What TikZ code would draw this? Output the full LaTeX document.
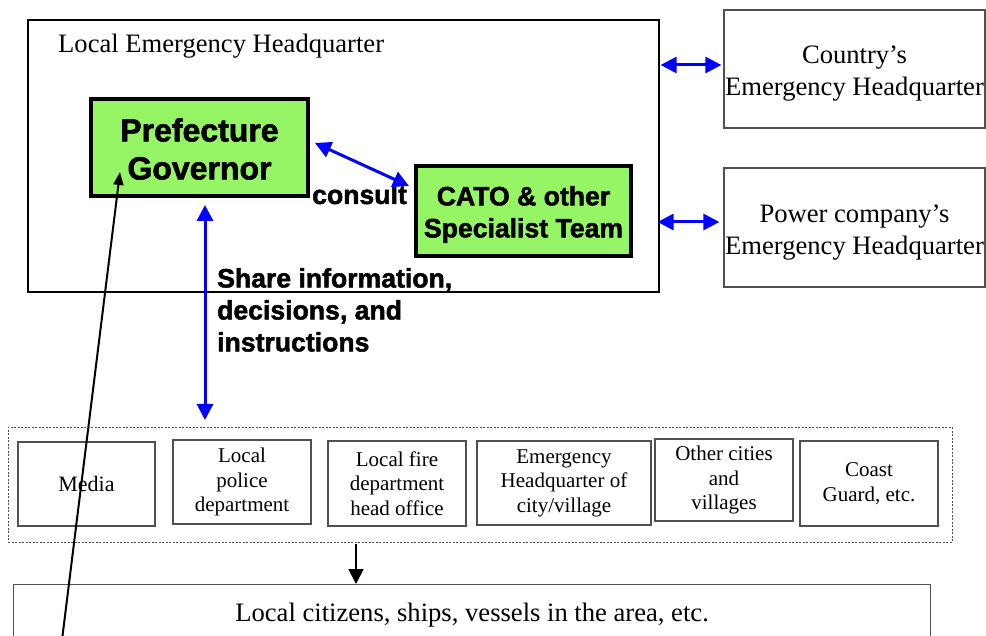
\documentclass[tikz,border=0pt]{standalone}
\usepackage{fontspec}
\setmainfont{Liberation Serif}
\newfontfamily\heavy[FakeBold=1.8]{Liberation Sans Bold}
\usetikzlibrary{arrows.meta,calc}
\definecolor{boxgreen}{RGB}{150,245,100}
\definecolor{edgegray}{RGB}{80,80,80}
\tikzset{
  serif/.style={font=\fontsize{26.6}{32}\selectfont},
  small/.style={font=\fontsize{21}{24.5}\selectfont},
  heavybig/.style={font=\heavy\fontsize{32}{38}\selectfont},
  heavymid/.style={font=\heavy\fontsize{26.6}{32}\selectfont},
  greenbox/.style={draw=black, line width=4pt, fill=boxgreen, inner sep=0pt, align=center},
  graybox/.style={draw=edgegray, line width=1.2pt, inner sep=0pt, align=center, small},
  sidebox/.style={draw=edgegray, line width=1.2pt, inner sep=0pt, minimum width=261pt},
  boxtext/.style={inner sep=0pt, align=center},
  bluearrow/.style={draw=blue, line width=3pt, {Triangle[length=16pt,width=16pt]}-{Triangle[length=16pt,width=16pt]}},
  blackarrow/.style={draw=black, line width=2pt, -{Triangle[length=15pt,width=15pt]}},
  pointer/.style={draw=black, line width=2pt, -{Triangle[length=13pt,width=10pt]}}
}
\begin{document}
\begin{tikzpicture}[x=1pt,y=-1pt]
\useasboundingbox (0,0) rectangle (986,636);
\fill[white] (0,0) rectangle (986,636);

% Local emergency headquarter
\node[draw=black, line width=1.6pt, minimum width=631pt, minimum height=272pt, inner sep=0pt, anchor=north west] (leh) at (27,19) {};
\node[serif, anchor=base west, inner sep=0pt] (lehlabel) at (58,53) {Local Emergency Headquarter};

\node[greenbox, minimum width=217pt, minimum height=97pt,
  label={[boxtext, heavybig, yshift=-1.5pt]center:{Prefecture\\Governor}}] (gov) at (199.5,147.5) {};
\node[greenbox, minimum width=215pt, minimum height=90pt,
  label={[boxtext, heavymid, yshift=-3.5pt]center:{CATO \& other\\Specialist Team}}] (cato) at (523.5,211) {};
\node[heavymid, anchor=base west, inner sep=0pt] (consult) at (312,204) {consult};

\draw[bluearrow] ($(gov.east)+(5,-4.5)$) -- ($(cato.west)+(-5,-25)$);

% side boxes
\node[sidebox, minimum height=118pt,
  label={[boxtext, serif, yshift=-5pt]center:{Country's\\Emergency Headquarter}}] (country) at (854.5,69) {};
\node[sidebox, minimum height=119pt,
  label={[boxtext, serif, yshift=-5pt]center:{Power company's\\Emergency Headquarter}}] (power) at (854.5,227.5) {};
\draw[bluearrow] ($(leh.east |- country.west)+(1,-4)$) -- ($(country.west)+(-2,-4)$);
\draw[bluearrow] ($(leh.east |- power.west)+(-2,-5.5)$) -- ($(power.west)+(-4,-5.5)$);

% group of organisations
\node[draw=edgegray, line width=0.8pt, dash pattern=on 2pt off 1.5pt, minimum width=944pt, minimum height=115pt, inner sep=0pt, anchor=north west] (group) at (8,427) {};
\node[graybox, minimum width=137pt, minimum height=84pt, font=\fontsize{22}{24.5}\selectfont] (media) at (86.5,484) {Media};
\node[graybox, minimum width=138pt, minimum height=84pt] (police) at (242,482) {Local\\police\\department};
\node[graybox, minimum width=138pt, minimum height=85pt] (fire) at (397,483.5) {Local fire\\department\\head office};
\node[graybox, minimum width=174pt, minimum height=84pt] (ehq) at (564,483) {Emergency\\Headquarter of\\city/village};
\node[graybox, minimum width=138pt, minimum height=82pt] (other) at (724,480) {Other cities\\and\\villages};
\node[graybox, minimum width=138pt, minimum height=85pt] (coast) at (869,483.5) {Coast\\Guard, etc.};

% share information arrow
\coordinate (vx) at (205,0);
\draw[bluearrow] ($(gov.south -| vx)+(0,7)$) -- ($(group.north -| vx)+(0,-7)$);
\node[heavymid, anchor=north west, inner sep=0pt, align=left] (share) at (217,268) {Share information,\\decisions, and\\instructions};

% citizens
\node[draw=edgegray, line width=1.2pt, minimum width=917pt, minimum height=62pt, inner sep=0pt, anchor=north west, serif] (citizens) at (13,584) {Local citizens, ships, vessels in the area, etc.};
\coordinate (dx) at (356,0);
\draw[blackarrow] ($(group.south -| dx)+(0,1)$) -- (citizens.north -| dx);

% long pointer
\coordinate (ptail) at (62,640);
\draw[pointer] (ptail) -- ($(gov.south west)+(31,-26)$);
\end{tikzpicture}
\end{document}
